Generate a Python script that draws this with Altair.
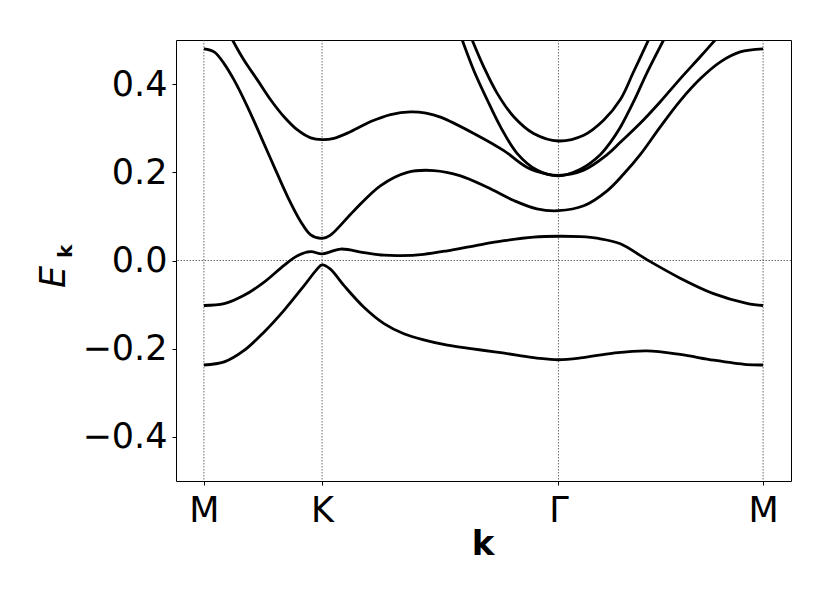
import altair as alt
import pandas as pd

# High-symmetry points along the path M -> K -> Gamma -> M
K_PTS = [0.0, 0.5, 1.5, 2.366]
K_LABELS = ["M", "K", "Γ", "M"]
Y_TICKS = [-0.4, -0.2, 0.0, 0.2, 0.4]

# Bands (k along path, energy E)
band_a_k = [0, 0.086, 0.170, 0.255, 0.339, 0.424, 0.480, 0.5, 0.534, 0.593, 0.677, 0.762,
            0.846, 0.930, 1.030, 1.130, 1.230, 1.330, 1.420, 1.5, 1.593, 1.733, 1.874, 2.015,
            2.156, 2.297, 2.366]
band_a_e = [-0.237, -0.230, -0.204, -0.162, -0.113, -0.057, -0.019, -0.010, -0.019, -0.057, -0.106, -0.143,
            -0.166, -0.180, -0.192, -0.200, -0.207, -0.215, -0.222, -0.225, -0.221, -0.210, -0.205, -0.213,
            -0.226, -0.236, -0.237]

band_b_k = [0, 0.086, 0.170, 0.255, 0.339, 0.396, 0.452, 0.5, 0.579, 0.677, 0.762, 0.832, 0.930, 1.030,
            1.150, 1.270, 1.395, 1.5, 1.593, 1.669, 1.762, 1.874, 2.015, 2.156, 2.297, 2.366]
band_b_e = [-0.102, -0.098, -0.079, -0.049, -0.011, 0.011, 0.020, 0.015, 0.026, 0.018, 0.012, 0.011, 0.014, 0.022,
            0.034, 0.045, 0.053, 0.055, 0.054, 0.050, 0.038, 0.002, -0.040, -0.075, -0.097, -0.102]

band_c_k = [0, 0.0435, 0.086, 0.128, 0.185, 0.241, 0.297, 0.354, 0.410, 0.452, 0.5, 0.534, 0.635,
            0.748, 0.861, 0.973, 1.086, 1.199, 1.311, 1.409, 1.5, 1.607, 1.706, 1.776, 1.846, 1.931,
            2.015, 2.100, 2.184, 2.269, 2.366]
band_c_e = [0.480, 0.473, 0.446, 0.409, 0.348, 0.281, 0.213, 0.145, 0.088, 0.058, 0.050, 0.057, 0.113,
            0.170, 0.200, 0.204, 0.192, 0.166, 0.136, 0.117, 0.113, 0.124, 0.158, 0.196, 0.240, 0.303,
            0.362, 0.412, 0.450, 0.473, 0.480]

band_d_k = [0.121, 0.170, 0.227, 0.283, 0.339, 0.396, 0.452, 0.5, 0.550, 0.620, 0.706, 0.790, 0.875,
            0.940, 1.001, 1.142, 1.269, 1.368, 1.452, 1.5, 1.607, 1.706, 1.762, 1.846, 1.931, 2.015,
            2.100, 2.163]
band_d_e = [0.500, 0.454, 0.409, 0.364, 0.326, 0.296, 0.278, 0.274, 0.277, 0.292, 0.315, 0.331, 0.337,
            0.334, 0.325, 0.288, 0.249, 0.211, 0.196, 0.193, 0.205, 0.240, 0.268, 0.311, 0.360, 0.412,
            0.462, 0.500]

band_e_k = [1.093, 1.142, 1.199, 1.255, 1.325, 1.409, 1.5, 1.593, 1.677, 1.720, 1.762, 1.818, 1.874, 1.945]
band_e_e = [0.500, 0.431, 0.364, 0.303, 0.243, 0.205, 0.192, 0.207, 0.240, 0.268, 0.302, 0.360, 0.425, 0.500]

band_g_k = [1.135, 1.184, 1.241, 1.311, 1.395, 1.5, 1.607, 1.691, 1.762, 1.818, 1.881]
band_g_e = [0.500, 0.439, 0.379, 0.326, 0.288, 0.271, 0.284, 0.318, 0.365, 0.428, 0.500]

bands = {
    "A": (band_a_k, band_a_e),
    "B": (band_b_k, band_b_e),
    "C": (band_c_k, band_c_e),
    "D": (band_d_k, band_d_e),
    "E": (band_e_k, band_e_e),
    "G": (band_g_k, band_g_e),
}

rows = []
for name, (ks, es) in bands.items():
    for k, e in zip(ks, es):
        rows.append({"band": name, "k": k, "E": e})
df = pd.DataFrame(rows)

xscale = alt.Scale(domain=[-0.118, 2.484], nice=False, zero=False)
yscale = alt.Scale(domain=[-0.5, 0.5], nice=False, zero=False)

label_expr = " : ".join(
    f"abs(datum.value - {v}) < 0.01 ? '{lab}'" for v, lab in zip(K_PTS, K_LABELS)
) + " : ''"

FONT = "DejaVu Sans"

x_axis = alt.Axis(
    values=K_PTS, labelExpr=label_expr, title=None, grid=False, domain=False,
    tickSize=4, tickColor="black", labelFont=FONT, labelFontSize=35, labelColor="black",
    labelPadding=8, labelFlush=False, labelOverlap=False, labelBound=False)
y_axis = alt.Axis(
    values=Y_TICKS, format=".1f", title=None, grid=False, domain=False,
    tickSize=4, tickColor="black", labelFont=FONT, labelFontSize=35, labelColor="black",
    labelPadding=5, labelFlush=False, labelOverlap=False, labelBound=False)

lines = alt.Chart(df).mark_line(
    color="black", strokeWidth=2.8, interpolate="catmull-rom", clip=True, strokeCap="butt"
).encode(
    x=alt.X("k:Q", scale=xscale, axis=x_axis),
    y=alt.Y("E:Q", scale=yscale, axis=y_axis),
    detail="band:N",
    order="k:Q",
)

vrules = alt.Chart(pd.DataFrame({"k": K_PTS})).mark_rule(
    color="#444", strokeWidth=0.8, strokeDash=[1.5, 1.5]
).encode(x=alt.X("k:Q", scale=xscale, axis=x_axis))

hrule = alt.Chart(pd.DataFrame({"E": [0.0]})).mark_rule(
    color="#444", strokeWidth=0.8, strokeDash=[1.5, 1.5]
).encode(y=alt.Y("E:Q", scale=yscale, axis=y_axis))

one = pd.DataFrame({"a": [1]})
t_e = alt.Chart(one).mark_text(
    text="E", angle=270, align="left", baseline="alphabetic", fontSize=35,
    fontStyle="italic", font=FONT, color="black"
).encode(x=alt.value(-111), y=alt.value(248))
t_k = alt.Chart(one).mark_text(
    text="k", angle=270, align="left", baseline="alphabetic", fontSize=20,
    fontWeight="bold", font=FONT, color="black"
).encode(x=alt.value(-104), y=alt.value(218))
t_kx = alt.Chart(one).mark_text(
    text="k", align="center", baseline="alphabetic", fontSize=34,
    fontWeight="bold", font=FONT, color="black"
).encode(x=alt.value(307), y=alt.value(515))

chart = alt.layer(vrules, hrule, lines, t_e, t_k, t_kx).properties(
    width=615, height=441,
    autosize=alt.AutoSizeParams(type="none"),
    padding={"left": 168, "top": 32, "right": 31, "bottom": 115},
).configure_view(stroke="black", strokeWidth=1)

chart.save("out.html", embed_options={"renderer": "svg", "actions": False})
